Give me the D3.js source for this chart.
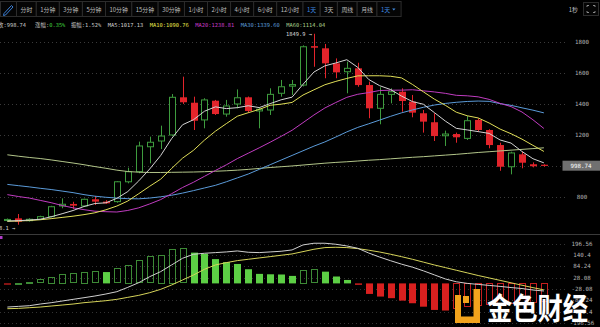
<!DOCTYPE html>
<html>
<head>
<meta charset="utf-8">
<script src="https://cdn.jsdelivr.net/npm/d3@7"></script>
<style>
  html, body { margin: 0; padding: 0; background: #000; }
  svg { display: block; }
</style>
</head>
<body>
<svg id="chart" width="600" height="327"></svg>
<script>
// ---- period selector ----
const periods = ["分时", "1分钟", "3分钟", "5分钟", "10分钟", "15分钟", "30分钟",
  "1小时", "2小时", "4小时", "6小时", "12小时", "1天", "3天", "周线", "月线"];
const activePeriod = "1天";
const refreshLabel = "1秒";

// ---- daily candles ----
const open = [645, 659, 644, 653, 670, 739, 752, 739, 782, 767, 767, 895, 960, 1121, 1158, 1197, 1440, 1405, 1294, 1418,
  1332, 1397, 1440, 1352, 1358, 1466, 1512, 1519, 1770, 1756, 1659, 1605, 1627, 1519, 1369, 1459, 1476, 1412, 1337, 1279,
  1192, 1203, 1175, 1294, 1229, 1132, 992, 1072, 1008, 1005];
const high = [658, 687, 660, 676, 740, 788, 766, 786, 803, 776, 900, 986, 1154, 1186, 1257, 1461, 1573, 1444, 1434, 1423,
  1423, 1491, 1445, 1373, 1498, 1552, 1552, 1775, 1849.9, 1784, 1691, 1670, 1663, 1541, 1505, 1498, 1498, 1455, 1358, 1337,
  1225, 1212, 1319, 1304, 1234, 1147, 1089, 1089, 1020, 1008];
const low = [640, 618.1, 638, 648, 665, 724, 719, 735, 745, 752, 760, 885, 950, 1014, 1106, 1190, 1397, 1229, 1240, 1326,
  1315, 1369, 1340, 1240, 1326, 1444, 1455, 1510, 1637, 1563, 1563, 1466, 1508, 1305, 1266, 1401, 1347, 1311, 1212, 1158,
  1126, 1147, 1165, 1218, 1111, 966, 943, 982, 988, 992.9];
const close = [652, 637, 653, 670, 734, 750, 741, 782, 767, 756, 895, 960, 1126, 1150, 1190, 1440, 1408, 1289, 1423, 1332,
  1384, 1437, 1352, 1363, 1459, 1508, 1522, 1766, 1760, 1659, 1601, 1627, 1519, 1369, 1459, 1476, 1416, 1341, 1283, 1190,
  1203, 1182, 1289, 1229, 1132, 992, 1081, 1018, 995.26, 998.74];

// ---- moving averages ----
const ma5 = [642, 644, 648, 653, 669.2, 688.8, 709.6, 735.4, 754.8, 759.2, 788.2, 832, 900.8, 977.4, 1064.2, 1173.2, 1262.8, 1295.4, 1350, 1378.4,
  1367.2, 1373, 1385.6, 1373.6, 1399, 1423.8, 1440.8, 1523.6, 1603, 1643, 1661.6, 1682.6, 1633.2, 1555, 1515, 1490, 1447.8, 1412.2, 1395, 1341.2,
  1286.6, 1239.8, 1229.4, 1218.6, 1207, 1164.8, 1144.6, 1090.4, 1043.7, 1017.13];
const ma10 = [640, 642, 645, 650, 657, 665, 673, 683, 695, 714.2, 738.5, 770.8, 818.1, 866.1, 911.7, 980.7, 1047.4, 1098.1, 1163.7, 1221.3,
  1270.2, 1317.9, 1340.5, 1361.8, 1388.7, 1395.5, 1406.9, 1454.6, 1488.3, 1521, 1542.7, 1561.7, 1578.4, 1579, 1579, 1575.8, 1565.2, 1522.7, 1475, 1428.1,
  1388.3, 1343.8, 1320.8, 1306.8, 1274.1, 1235, 1205, 1170, 1130, 1090.76];
const ma20 = [812, 800, 790, 775, 760, 742, 727, 715, 705, 702, 700, 710, 727, 752, 780, 818, 858, 892, 930, 967.8,
  1004.4, 1044.4, 1079.3, 1114, 1150.2, 1188.1, 1227.2, 1276.4, 1326, 1371.2, 1406.5, 1439.8, 1459.5, 1470.4, 1483.9, 1485.7, 1486.1, 1488.7, 1481.7, 1474.6,
  1465.5, 1452.8, 1449.6, 1442.9, 1426.6, 1400.8, 1380, 1345, 1295, 1238.81];
const ma30 = [878, 870, 862, 853, 845, 835, 825, 812, 802, 795, 790, 786, 785, 790, 798, 808, 822, 838, 855, 872,
  895, 920, 945, 975, 1005, 1035, 1065, 1095, 1125, 1152.2, 1183.8, 1216.8, 1245.7, 1269, 1293.1, 1317.3, 1339.8, 1358.5, 1375.7, 1390.1,
  1400.4, 1407.8, 1413.2, 1415.9, 1413.9, 1399, 1388.1, 1372, 1357, 1339.6];
const ma60 = [1069, 1060, 1052, 1045, 1036, 1026, 1016, 1005, 993, 982, 970, 961, 957, 955, 955, 956, 957, 958, 960, 963,
  966, 970, 975, 981, 987, 992, 997, 1003, 1009, 1015, 1020, 1024, 1029, 1034, 1038, 1043, 1048, 1053, 1057, 1062,
  1067, 1072, 1078, 1084, 1089, 1094, 1099, 1104, 1109, 1114.04];

// ---- MACD ----
const macdHist = [-2, 3, 9, 21, 34, 47, 50, 57, 59, 56, 75, 92, 116, 133, 141, 171, 174, 152, 146, 120,
  105, 96, 70, 47, 45, 44, 37, 67, 70, 58, 34, 17, -7, -52, -65, -73, -85, -98, -115, -131,
  -134, -128, -120, -114, -110, -106, -103, -100, -98, -96];
const dif = [-116.8, -113.5, -110.2, -101.9, -95.3, -87.1, -78.8, -70.6, -62.3, -52.4, -40.9, -19.5, 3.6, 33.3, 58, 91, 124, 143.8, 148.8, 152.1,
  155.4, 160.3, 153.7, 152.1, 155.4, 158.7, 165.3, 190, 198.3, 198.3, 193.3, 185, 173.5, 150, 130, 112, 95, 80, 62, 42,
  22, 8, 0, -5, -9.9, -14.9, -20.5, -25.4, -32.7, -37.6];
const dea = [-125, -123.4, -120.1, -116.8, -111.8, -106.9, -101.9, -95.3, -90.4, -85.4, -78.8, -68.9, -59, -45.8, -29.4, -7.9, 16.8, 41.6, 69.6, 91,
  102.6, 112.5, 119.1, 125.7, 132.3, 138.9, 145.5, 157, 168.6, 176.8, 178.5, 176.8, 171.8, 164, 155, 144, 132, 119, 105, 91,
  78, 65, 52, 39, 27, 15, 3, -9, -21, -32];

// ---- axes and legend ----
const priceTicks = [1800, 1600, 1400, 1200, 1000, 800];
const macdTicks = [196.56, 140.4, 84.24, 28.08, -28.08, -84.24, -140.4, -196.56];
const changePct = "0.35%";
const amplitudePct = "1.52%";
const maLegend = [
  { name: "MA5", value: ma5[ma5.length - 1], color: "#d0d0d0" },
  { name: "MA10", value: ma10[ma10.length - 1], color: "#e8e64c" },
  { name: "MA20", value: ma20[ma20.length - 1], color: "#c83cc8" },
  { name: "MA30", value: ma30[ma30.length - 1], color: "#5b9bd9" },
  { name: "MA60", value: ma60[ma60.length - 1], color: "#a9cf8c" }
];

const MONO = "'DejaVu Sans Mono', 'Noto Sans CJK SC', monospace";
const CJK = "'Noto Sans CJK SC', 'Noto Sans', sans-serif";
const UP = "#3e9c3e", DOWN = "#e3242b";

const svg = d3.select("#chart");
svg.append("rect").attr("width", 600).attr("height", 327).attr("fill", "#000");

// ---- toolbar ----
const tb = svg.append("g");
const cellH = 15, cellY = 1.5;
tb.append("rect").attr("x", 0.5).attr("y", cellY).attr("width", 16).attr("height", cellH)
  .attr("fill", "#050505").attr("stroke", "#2c2c2c");
tb.append("path").attr("d", "M4,13.5 L11.5,5.5 L13,7 L5.5,15 L3.5,15.5 Z")
  .attr("fill", "none").attr("stroke", "#3b7fd6").attr("stroke-width", 1);

let cx0 = 16.5;
function addCell(label, color, extraW) {
  const g = tb.append("g");
  const r = g.append("rect").attr("y", cellY).attr("height", cellH)
    .attr("fill", "#050505").attr("stroke", "#2c2c2c");
  const t = g.append("text").text(label).attr("y", cellY + cellH / 2 + 0.3)
    .attr("dominant-baseline", "central").attr("font-family", CJK)
    .attr("font-size", 5.9).attr("fill", color);
  const w = t.node().getComputedTextLength() + 8 + (extraW || 0);
  r.attr("x", cx0).attr("width", w);
  t.attr("x", cx0 + 4);
  const x = cx0;
  cx0 += w;
  return { x, w, t };
}
periods.forEach(p => addCell(p, p === activePeriod ? "#3f8ae0" : "#bdbdbd"));
const dd = addCell(activePeriod, "#3f8ae0", 7);
const tx = dd.x + 4 + dd.t.node().getComputedTextLength() + 2;
tb.append("path").attr("d", `M${tx},8.6 h3.4 l-1.7,1.9 z`).attr("fill", "#3f8ae0");

tb.append("text").text(refreshLabel).attr("x", 578).attr("y", 9.5)
  .attr("text-anchor", "end").attr("dominant-baseline", "central")
  .attr("font-family", CJK).attr("font-size", 5.9).attr("fill", "#bdbdbd");
tb.append("rect").attr("x", 583.5).attr("y", 2.5).attr("width", 15).attr("height", 13)
  .attr("fill", "#050505").attr("stroke", "#2c2c2c");
tb.append("path")
  .attr("d", "M587,7 V5.5 H589 M593,5.5 H595 V7 M595,11 V12.5 H593 M589,12.5 H587 V11")
  .attr("fill", "none").attr("stroke", "#9a9a9a").attr("stroke-width", 0.9);

// ---- legend line ----
const lg = svg.append("text").attr("y", 25).attr("dominant-baseline", "central")
  .attr("font-family", MONO).attr("font-size", 5.4).attr("x", -2);
const last = close.length - 1;
const legendParts = [
  { t: "收:" + d3.format(".2f")(close[last]), c: "#c8c8c8", gap: 0 },
  { t: "涨幅:", c: "#c8c8c8", gap: 9 },
  { t: changePct, c: "#3fd13f", gap: 0 },
  { t: "振幅:" + amplitudePct, c: "#c8c8c8", gap: 5.5 }
].concat(maLegend.map(m => ({ t: m.name + ":" + d3.format(".2f")(m.value), c: m.color, gap: 6.5 })));
legendParts.forEach(p => lg.append("tspan").attr("dx", p.gap).attr("fill", p.c).text(p.t));

// ---- scales ----
const x = d3.scaleLinear().domain([0, close.length - 1]).range([7.35, 543.9]);
const y = d3.scaleLinear().domain([800, 1800]).range([196.5, 41.5]);
const ym = d3.scaleLinear().domain([-196.56, 196.56]).range([323.2, 243.6]);
const px = v => Math.round(v) + 0.5;

// ---- grid + right axes ----
const grid = svg.append("g");
priceTicks.forEach(v => {
  grid.append("line").attr("x1", 0).attr("x2", 566).attr("y1", px(y(v))).attr("y2", px(y(v)))
    .attr("stroke", "#3a3a3a").attr("stroke-dasharray", "1,3");
  grid.append("text").text(v).attr("x", 582).attr("y", y(v)).attr("text-anchor", "middle")
    .attr("dominant-baseline", "central").attr("font-family", MONO).attr("font-size", 5.8).attr("fill", "#b4b4b4");
});
macdTicks.forEach(v => {
  grid.append("line").attr("x1", 0).attr("x2", 566).attr("y1", px(ym(v))).attr("y2", px(ym(v)))
    .attr("stroke", "#333").attr("stroke-dasharray", "1,3");
  grid.append("text").text(v).attr("x", 582).attr("y", ym(v)).attr("text-anchor", "middle")
    .attr("dominant-baseline", "central").attr("font-family", MONO).attr("font-size", 5.8).attr("fill", "#b4b4b4");
});
svg.append("line").attr("x1", 0).attr("x2", 600).attr("y1", 234.5).attr("y2", 234.5).attr("stroke", "#3a3a3a");
svg.append("rect").attr("x", 0).attr("y", 236).attr("width", 2.5).attr("height", 3).attr("fill", "#b03cc8");

// ---- candles ----
const bodyW = 7;
const cg = svg.append("g");
close.forEach((c, i) => {
  const o = open[i], up = c >= o;
  const cxp = Math.round(x(i));
  const top = y(Math.max(o, c)), bot = y(Math.min(o, c));
  const col = up ? UP : DOWN;
  if (up) {
    cg.append("line").attr("x1", cxp + 0.5).attr("x2", cxp + 0.5).attr("y1", y(high[i])).attr("y2", top)
      .attr("stroke", col);
    cg.append("line").attr("x1", cxp + 0.5).attr("x2", cxp + 0.5).attr("y1", bot).attr("y2", y(low[i]))
      .attr("stroke", col);
    cg.append("rect").attr("x", cxp - 2.5).attr("y", top).attr("width", bodyW - 1)
      .attr("height", Math.max(1, bot - top)).attr("fill", "#000").attr("stroke", col);
  } else {
    cg.append("line").attr("x1", cxp + 0.5).attr("x2", cxp + 0.5).attr("y1", y(high[i])).attr("y2", y(low[i]))
      .attr("stroke", col);
    cg.append("rect").attr("x", cxp - 3).attr("y", top).attr("width", bodyW)
      .attr("height", Math.max(1.2, bot - top)).attr("fill", col);
  }
});

// ---- moving average lines ----
const line = arr => d3.line().x((d, i) => x(i)).y(d => y(d))(arr);
[[ma60, "#b3c68a"], [ma30, "#5b9bd9"], [ma20, "#c03cc0"], [ma10, "#e0de58"], [ma5, "#d4d4d4"]]
  .forEach(([arr, col]) => svg.append("path").attr("d", line(arr)).attr("fill", "none")
    .attr("stroke", col).attr("stroke-width", 1));

// ---- extreme price labels ----
const hiIdx = d3.maxIndex(high), loIdx = d3.minIndex(low);
svg.append("text").text(high[hiIdx] + " →").attr("x", x(hiIdx) - 2).attr("y", y(high[hiIdx]))
  .attr("text-anchor", "end").attr("dominant-baseline", "central")
  .attr("font-family", MONO).attr("font-size", 5.4).attr("fill", "#d8d8d8");
svg.append("text").text(low[loIdx] + " →").attr("x", x(loIdx) - 3).attr("y", y(low[loIdx]) + 3.5)
  .attr("text-anchor", "end").attr("dominant-baseline", "central")
  .attr("font-family", MONO).attr("font-size", 5.4).attr("fill", "#d8d8d8");

// ---- last price tag ----
const lastY = y(close[last]);
svg.append("rect").attr("x", 562.5).attr("y", lastY - 5).attr("width", 37.5).attr("height", 10).attr("fill", "#707070");
svg.append("text").text(d3.format(".2f")(close[last])).attr("x", 581).attr("y", lastY + 0.3)
  .attr("text-anchor", "middle").attr("dominant-baseline", "central")
  .attr("font-family", MONO).attr("font-size", 5.8).attr("fill", "#fff");

// ---- MACD histogram ----
const mg = svg.append("g");
const y0 = ym(0);
macdHist.forEach((v, i) => {
  const prev = i > 0 ? macdHist[i - 1] : v;
  const pos = v >= 0;
  const hollow = i > 0 && v > prev;
  const cxp = Math.round(x(i));
  const yv = ym(v);
  const top = Math.min(yv, y0), h = Math.max(1.2, Math.abs(yv - y0));
  if (hollow) {
    mg.append("rect").attr("x", cxp - 2.5).attr("y", Math.round(top) + 0.5).attr("width", bodyW - 1)
      .attr("height", Math.max(1, Math.round(h) - 1)).attr("fill", "none")
      .attr("stroke", pos ? "#3d8a36" : "#c41e1e");
  } else {
    mg.append("rect").attr("x", cxp - 3).attr("y", top).attr("width", bodyW).attr("height", h)
      .attr("fill", pos ? "#5dcf45" : "#d9201f");
  }
});
const mline = arr => d3.line().x((d, i) => x(i)).y(d => ym(d))(arr);
svg.append("path").attr("d", mline(dea)).attr("fill", "none").attr("stroke", "#d6d45a").attr("stroke-width", 1);
svg.append("path").attr("d", mline(dif)).attr("fill", "none").attr("stroke", "#cfcfcf").attr("stroke-width", 1);

// ---- brand mark ----
const wm = svg.append("g");
wm.append("path").attr("d", "M455,295 H461 V316.5 H473.5 V289 H480 V323 H455 Z").attr("fill", "#f2a31c");
wm.append("rect").attr("x", 463).attr("y", 296).attr("width", 6).attr("height", 7).attr("fill", "#f2a31c");
wm.append("text").text("金色财经").attr("x", 487).attr("y", 318.5)
  .attr("font-family", CJK).attr("font-weight", 600).attr("font-size", 30)
  .attr("textLength", 101).attr("lengthAdjust", "spacingAndGlyphs")
  .attr("fill", "#ffffff").attr("stroke", "#222").attr("stroke-width", 0.4).attr("paint-order", "stroke");
</script>
</body>
</html>
